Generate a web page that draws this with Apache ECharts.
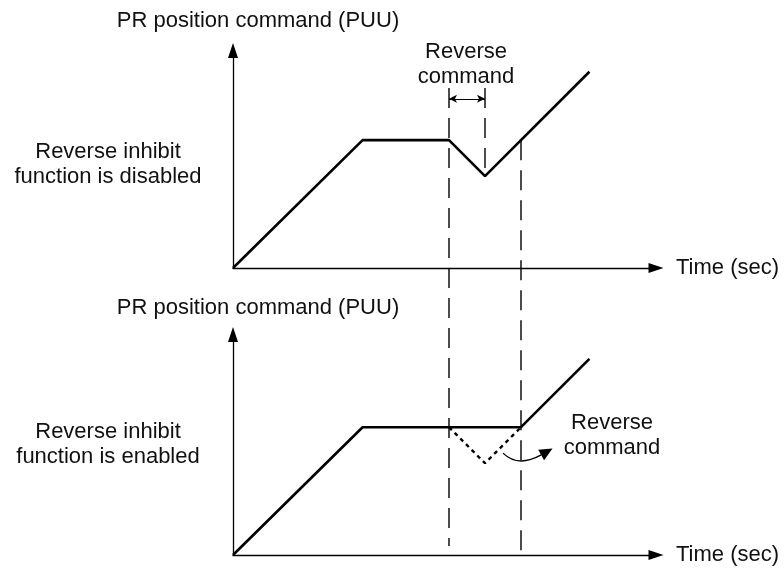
<!DOCTYPE html>
<html>
<head>
<meta charset="utf-8">
<script src="https://cdn.jsdelivr.net/npm/echarts@6/dist/echarts.min.js"></script>
<style>
  html, body { margin: 0; background: #fff; }
  #chart { width: 784px; height: 568px; }
</style>
</head>
<body>
<div id="chart"></div>
<script>
// breakpoints of the PR position command (time units are arbitrary)
const tDisabled = [0, 3.6, 6, 7, 9.9];
const pDisabled = [0, 3.55, 3.55, 2.55, 5.45];
const tEnabled = [0, 3.6, 8, 9.9];
const pEnabled = [0, 3.55, 3.55, 5.45];
// reverse command that gets ignored when the inhibit is on
const tIgnored = [6, 7, 8];
const pIgnored = [3.55, 2.55, 3.55];

const reverseStart = 6;
const reverseEnd = 7;
const resumeTime = 8;

const FONT = "'Liberation Sans', Arial, sans-serif";
const INK = '#000';

const zip = (xs, ys) => xs.map((x, i) => [x, ys[i]]);

const chart = echarts.init(document.getElementById('chart'));

const axisLine = {
  show: true,
  onZero: false,
  symbol: ['none', 'triangle'],
  symbolSize: [10, 15],
  lineStyle: { color: INK, width: 1.3 }
};
const bare = {
  axisTick: { show: false },
  axisLabel: { show: false },
  splitLine: { show: false }
};
const nameStyle = { fontFamily: FONT, fontSize: 22, color: '#111' };

function xAx(gridIndex) {
  return Object.assign({
    type: 'value', gridIndex, min: 0, max: 11.75,
    axisLine, name: 'Time (sec)', nameLocation: 'end', nameGap: 20,
    nameTextStyle: Object.assign({ align: 'left', verticalAlign: 'middle' }, nameStyle)
  }, bare);
}
function yAx(gridIndex, max, gap) {
  return Object.assign({
    type: 'value', gridIndex, min: 0, max,
    axisLine, name: 'PR position command (PUU)', nameLocation: 'end', nameGap: gap,
    nameTextStyle: Object.assign({ padding: [0, 0, 0, 50] }, nameStyle)
  }, bare);
}

const solid = { color: INK, width: 2.6 };

chart.setOption({
  animation: false,
  grid: [
    { left: 233, top: 50.5, width: 423, height: 217.5 },
    { left: 233, top: 334.5, width: 423, height: 220.5 }
  ],
  xAxis: [xAx(0), xAx(1)],
  yAxis: [yAx(0, 6.04, 19), yAx(1, 6.125, 16)],
  series: [
    {
      type: 'line', xAxisIndex: 0, yAxisIndex: 0,
      data: zip(tDisabled, pDisabled),
      symbol: 'none', lineStyle: solid,
      markLine: {
        silent: true, animation: false,
        symbol: ['arrow', 'arrow'], symbolSize: [6, 8],
        label: { show: false },
        lineStyle: { color: INK, width: 1, type: 'solid' },
        data: [[{ coord: [reverseStart, 4.7] }, { coord: [reverseEnd, 4.7] }]]
      }
    },
    {
      type: 'line', xAxisIndex: 1, yAxisIndex: 1,
      data: zip(tEnabled, pEnabled),
      symbol: 'none', lineStyle: solid
    },
    {
      type: 'line', xAxisIndex: 1, yAxisIndex: 1,
      data: zip(tIgnored, pIgnored),
      symbol: 'none',
      lineStyle: { color: INK, width: 2.4, type: [4, 4] }
    }
  ]
});

const px = (g, pt) => chart.convertToPixel({ gridIndex: g }, pt);

// dashed time guides, positioned through the axes of both plots
const guides = [
  [px(0, [reverseStart, 5.0]), px(1, [reverseStart, 0.25])],
  [px(0, [reverseEnd, 5.0]), px(0, [reverseEnd, pDisabled[3]])],
  [px(0, [resumeTime, pDisabled[3] + (resumeTime - reverseEnd)]), px(1, [resumeTime, 0])]
];

// curved callout arrow in the lower plot: start, control, end
const callout = [[7.5, 2.83], [7.92, 2.42], [8.56, 2.78]].map(p => px(1, p));
const [c0, cc, c1] = callout;
const dx = c1[0] - cc[0], dy = c1[1] - cc[1];
const len = Math.hypot(dx, dy);
const ux = dx / len, uy = dy / len;
const headLen = 13, headHalf = 6;
const tip = [c1[0] + ux * headLen, c1[1] + uy * headLen];
const head = [
  tip,
  [c1[0] - uy * headHalf, c1[1] + ux * headHalf],
  [c1[0] + uy * headHalf, c1[1] - ux * headHalf]
];

const label = (text, x, y) => ({
  type: 'text', silent: true,
  style: {
    text, x, y, font: '22px ' + FONT, fill: '#111',
    align: 'center', verticalAlign: 'middle', lineHeight: 25
  }
});

chart.setOption({
  graphic: guides.map(([a, b]) => ({
    type: 'line', silent: true, z: 1,
    shape: { x1: a[0], y1: a[1], x2: b[0], y2: b[1] },
    style: { stroke: INK, lineWidth: 1.4, lineDash: [20, 10] }
  })).concat([
    {
      type: 'bezierCurve', silent: true,
      shape: { x1: c0[0], y1: c0[1], cpx1: cc[0], cpy1: cc[1], x2: c1[0], y2: c1[1] },
      style: { stroke: INK, lineWidth: 1.3, fill: null }
    },
    {
      type: 'polygon', silent: true,
      shape: { points: head },
      style: { fill: INK }
    },
    label('Reverse inhibit\nfunction is disabled', 108, 164),
    label('Reverse inhibit\nfunction is enabled', 108, 444),
    label('Reverse\ncommand', 466, 64),
    label('Reverse\ncommand', 612, 435.5)
  ])
});
</script>
</body>
</html>
